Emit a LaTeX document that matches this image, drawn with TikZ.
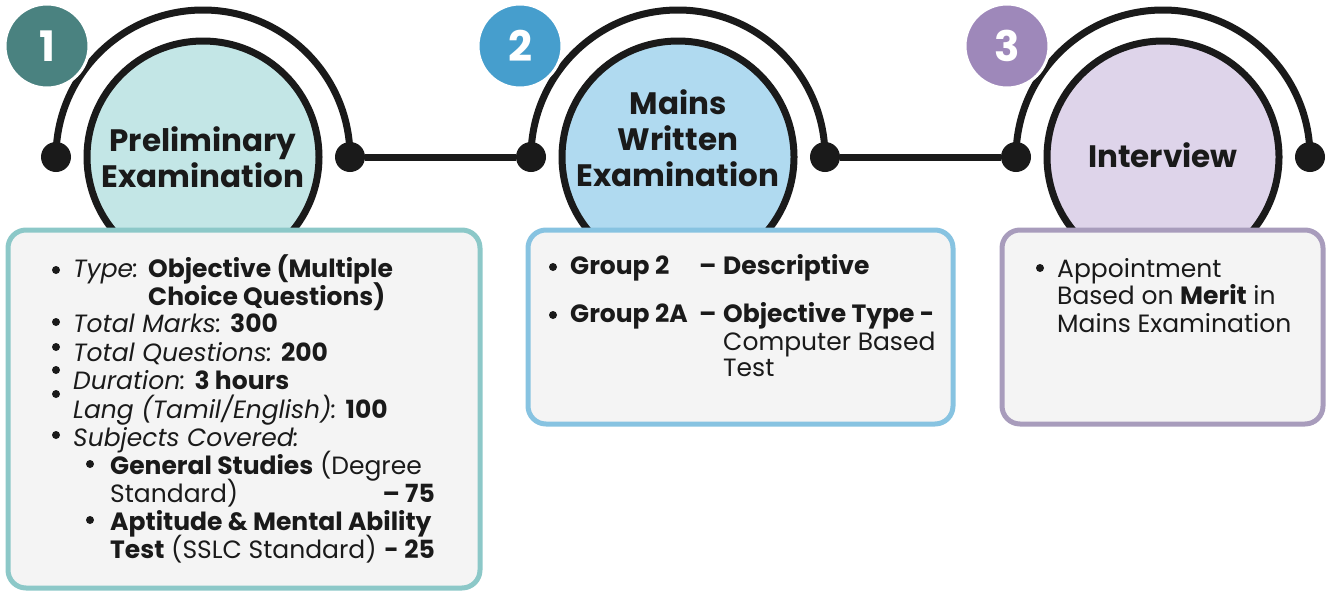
\documentclass[tikz,border=0pt]{standalone}
\usepackage{fontspec}
\setmainfont{Poppins}
\usetikzlibrary{positioning}

\definecolor{inkblack}{RGB}{26,26,26}
\definecolor{boxgray}{RGB}{244,244,244}
\definecolor{prelimbadge}{RGB}{74,130,128}
\definecolor{prelimfill}{RGB}{195,230,230}
\definecolor{prelimline}{RGB}{140,200,200}
\definecolor{mainsbadge}{RGB}{70,158,205}
\definecolor{mainsfill}{RGB}{176,218,240}
\definecolor{mainsline}{RGB}{135,195,225}
\definecolor{interbadge}{RGB}{158,136,186}
\definecolor{interfill}{RGB}{222,212,234}
\definecolor{interline}{RGB}{168,156,188}

\begin{document}
\begin{tikzpicture}[x=1pt,y=-1pt,
		ring/.style={draw=inkblack,line width=7pt},
		link/.style={draw=inkblack,line width=7pt},
		stagedisc/.style={circle,draw=inkblack,line width=7pt,minimum size=232pt,inner sep=0pt},
		joint/.style={circle,fill=inkblack,minimum size=30pt,inner sep=0pt},
		badge/.style={circle,draw=white,line width=3pt,minimum size=84pt,inner sep=0pt,
			text=white,font=\fontsize{42}{42}\selectfont\bfseries},
		title/.style={align=center,anchor=base,inner sep=0pt,text=inkblack,
			font=\fontsize{31}{36}\selectfont\bfseries},
		infobox/.style={line width=5pt,rounded corners=18pt,fill=boxgray},
		txt/.style={anchor=base west,inner sep=0pt,text=inkblack,font=\fontsize{25}{28}\selectfont}]
		
		\useasboundingbox (0,0) rectangle (1333,592);
		
		% Three stages: disc, half ring with end points, number badge
		\foreach \i/\cx/\bx/\fillc/\badgec in {1/203/47/prelimfill/prelimbadge,
			2/678/520/mainsfill/mainsbadge,
			3/1163/1007/interfill/interbadge}{
			\node[stagedisc,fill=\fillc] (disc\i) at (\cx,157) {};
			\coordinate (l\i) at (\cx-147,157);
			\coordinate (r\i) at (\cx+147,157);
			\draw[ring] (l\i) arc[start angle=180,end angle=360,radius=147];
			\node[joint] (jl\i) at (l\i) {};
			\node[joint] (jr\i) at (r\i) {};
			\node[badge,fill=\badgec] (badge\i) at (\bx,46) {\i};
		}
		
		% Links between the stages
		\draw[link] (jr1) -- (jl2);
		\draw[link] (jr2) -- (jl3);
		
		% Stage titles (anchored on the last line)
		\node[title] (title1) at (203,187) {Preliminary\\Examination};
		\node[title] (title2) at (678,186) {Mains\\Written\\Examination};
		\node[title] (title3) at (1163,167) {Interview};
		
		% Boxes below the discs
		\draw[infobox,draw=prelimline] (8,230) rectangle (480,588);
		\draw[infobox,draw=mainsline] (528,230) rectangle (953,424);
		\draw[infobox,draw=interline] (1002,230) rectangle (1323,424);
		
		% Preliminary details
		\foreach \by in {270,322,347,370,394,435}
		\fill[inkblack] (56,\by) circle (4);
		\foreach \by in {464,520}
		\fill[inkblack] (90,\by) circle (4);
		\node[txt] (type) at (73,277) {\textit{Type:}};
		\node[txt] (typeval) at (148,277) {\textbf{Objective (Multiple}};
		\node[txt] (typemore) at (148,305) {\textbf{Choice Questions)}};
		\node[txt] (marks) at (73,332) {\textit{Total Marks:} \textbf{300}};
		\node[txt] (questions) at (73,361) {\textit{Total Questions:} \textbf{200}};
		\node[txt] (duration) at (73,389) {\textit{Duration:} \textbf{3 hours}};
		\node[txt] (lang) at (73,418) {\textit{Lang (Tamil/English):} \textbf{100}};
		\node[txt] (subjects) at (73,446) {\textit{Subjects Covered:}};
		\node[txt] (gs) at (110,474) {\textbf{General Studies} (Degree};
		\node[txt] (gsmore) at (110,502) {Standard)};
		\node[txt,anchor=base east] (gsmark) at (435,502) {\textbf{– 75}};
		\node[txt] (apt) at (110,530) {\textbf{Aptitude \& Mental Ability}};
		\node[txt] (aptmore) at (110,558) {\textbf{Test} (SSLC Standard)};
		\node[txt,anchor=base east] (aptmark) at (435,558) {\textbf{- 25}};
		
		% Mains details
		\foreach \by in {267,315}
		\fill[inkblack] (553,\by) circle (4);
		\node[txt] (grp) at (570,274) {\textbf{Group 2}};
		\node[txt] (grpdash) at (699,274) {\textbf{–}};
		\node[txt] (grpval) at (723,274) {\textbf{Descriptive}};
		\node[txt] (grpa) at (570,322) {\textbf{Group 2A}};
		\node[txt] (grpadash) at (699,322) {\textbf{–}};
		\node[txt] (grpaval) at (723,322) {\textbf{Objective Type -}};
		\node[txt] (cbt) at (723,350) {Computer Based};
		\node[txt] (cbtmore) at (723,376) {Test};
		
		% Interview details
		\fill[inkblack] (1040,268) circle (4);
		\node[txt] (appt) at (1057,277) {Appointment};
		\node[txt] (apptmore) at (1057,304) {Based on \textbf{Merit} in};
		\node[txt] (apptlast) at (1057,332) {Mains Examination};
		
	\end{tikzpicture}
\end{document}
